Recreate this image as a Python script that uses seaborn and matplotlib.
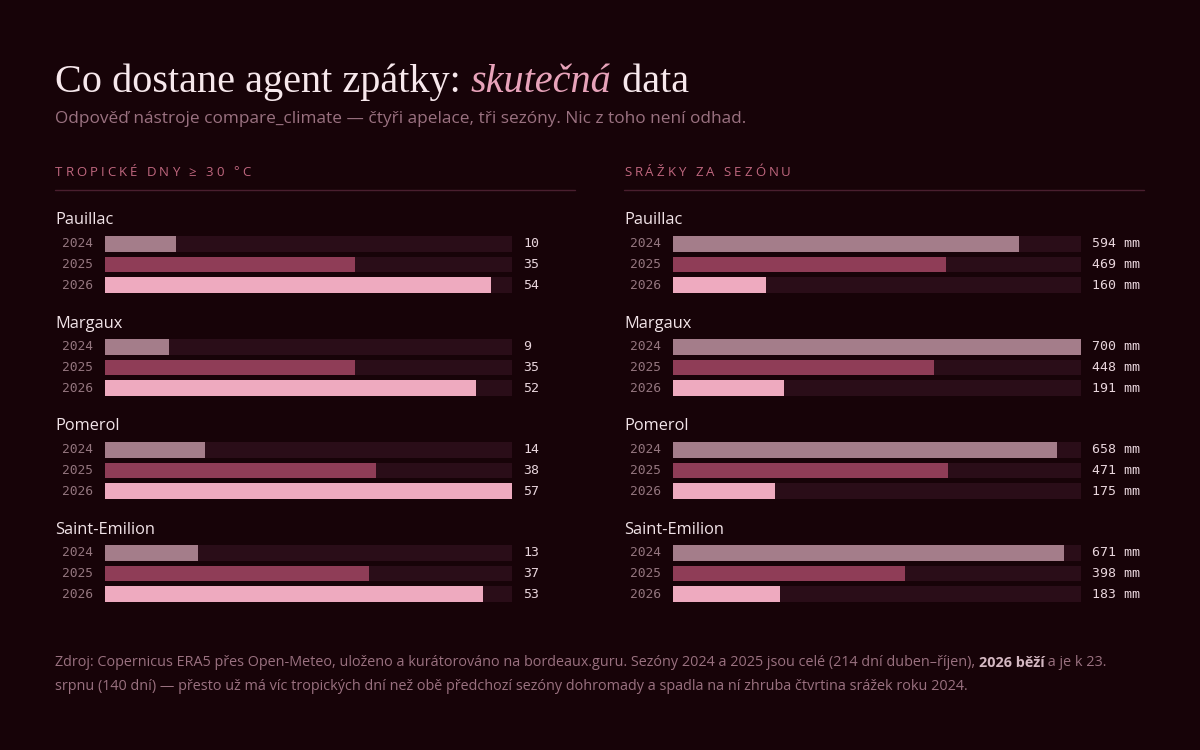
import pandas as pd
import matplotlib.pyplot as plt
import seaborn as sns

# Data
appellations = ['Pauillac', 'Margaux', 'Pomerol', 'Saint-Emilion']
years = ['2024', '2025', '2026']
tropical_days = {
    'Pauillac':      [10, 35, 54],
    'Margaux':       [9, 35, 52],
    'Pomerol':       [14, 38, 57],
    'Saint-Emilion': [13, 37, 53],
}
rain_mm = {
    'Pauillac':      [594, 469, 160],
    'Margaux':       [700, 448, 191],
    'Pomerol':       [658, 471, 175],
    'Saint-Emilion': [671, 398, 183],
}

# Colours
BG      = '#170308'
TRACK   = '#2a0d18'
YEAR_COLORS = {'2024': '#a47d8a', '2025': '#8f3d57', '2026': '#eeaabf'}
TITLE_C = '#f7e8ec'
ACCENT  = '#e8a3ba'
MUTED   = '#9a7180'
HEADER  = '#c0677f'
RULE    = '#4a1f2f'
LABEL_C = '#f2e4e8'
YEAR_C  = '#94767f'
VALUE_C = '#e8d5dc'

SANS  = ['Open Sans', 'DejaVu Sans']
SERIF = ['Liberation Serif', 'DejaVu Serif']
MONO  = ['DejaVu Sans Mono']

sns.set_theme(style='white')
plt.rcParams['font.family'] = SANS

W, H = 1200, 750
fig = plt.figure(figsize=(12, 7.5), dpi=100)
fig.patch.set_facecolor(BG)
renderer = fig.canvas.get_renderer()


def fx(px):
    return px / W


def fy(py):
    return 1 - py / H


def text_width(s, **kw):
    # measure with a sentinel so trailing spaces count
    t1 = fig.text(0, 0, s + '|', **kw)
    t2 = fig.text(0, 0, '|', **kw)
    w = t1.get_window_extent(renderer).width - t2.get_window_extent(renderer).width
    t1.remove()
    t2.remove()
    return w


def draw_runs(x, y, runs, va='baseline'):
    for s, kw in runs:
        fig.text(fx(x), fy(y), s, va=va, **kw)
        x += text_width(s, **kw)


def spaced_text(x, y, s, tracking, **kw):
    for ch in s:
        fig.text(fx(x), fy(y), ch, va='center', **kw)
        x += text_width(ch, **kw) + tracking


# Title + subtitle
title_kw = dict(fontsize=29, color=TITLE_C, family=SERIF)
draw_runs(55, 92, [
    ('Co dostane agent zpátky: ', title_kw),
    ('skutečná', dict(title_kw, color=ACCENT, style='italic')),
    (' data', title_kw),
])
fig.text(fx(55), fy(119), 'Odpověď nástroje compare_climate — čtyři apelace, tři sezóny. Nic z toho není odhad.',
         fontsize=12.4, color=MUTED, va='center', family=SANS)

panels = [
    dict(title='TROPICKÉ DNY ≥ 30 °C', data=tropical_days, unit='',
         x0=55, track_l=105, track_r=512, x1=575),
    dict(title='SRÁŽKY ZA SEZÓNU', data=rain_mm, unit=' mm',
         x0=624, track_l=673, track_r=1081, x1=1144),
]

GROUP_TOP = 233.5
GROUP_STEP = 103
AX_H = 62

for p in panels:
    spaced_text(p['x0'], 172, p['title'], 3.0, fontsize=9.5, color=HEADER, family=SANS)
    fig.add_artist(plt.Line2D([fx(p['x0']), fx(p['x1'])], [fy(190), fy(190)],
                              color=RULE, linewidth=1))
    xmax = max(max(v) for v in p['data'].values())

    for g, app in enumerate(appellations):
        top = GROUP_TOP + g * GROUP_STEP
        ax = fig.add_axes([fx(p['track_l']), fy(top + AX_H),
                           (p['track_r'] - p['track_l']) / W, AX_H / H])
        ax.set_facecolor(BG)
        df = pd.DataFrame({'year': years, 'value': p['data'][app]})

        ax.barh(years, [xmax] * len(years), height=0.77, color=TRACK, linewidth=0)
        sns.barplot(data=df, x='value', y='year', hue='year', palette=YEAR_COLORS,
                    order=years, orient='h', width=0.77, legend=False,
                    saturation=1, linewidth=0, ax=ax)
        ax.set_xlim(0, xmax)
        ax.set_ylim(2.5, -0.5)
        ax.axis('off')

        for i, (yr, val) in enumerate(zip(years, p['data'][app])):
            ax.annotate(yr, xy=(0, i), xycoords=('axes fraction', 'data'),
                        xytext=(-12, 0), textcoords='offset pixels',
                        ha='right', va='center', fontsize=9.3, color=YEAR_C, family=MONO)
            ax.annotate(f'{val}{p["unit"]}', xy=(1, i), xycoords=('axes fraction', 'data'),
                        xytext=(11, 0), textcoords='offset pixels',
                        ha='left', va='center', fontsize=9.5, color=VALUE_C, family=MONO)

        fig.text(fx(p['x0']), fy(top - 13), app, fontsize=11.8, color=LABEL_C,
                 va='center', family=SANS)

# Footer
foot_kw = dict(fontsize=10.4, color=MUTED, family=SANS)
bold_kw = dict(foot_kw, color='#d4b8c2', weight='bold')
draw_runs(55, 663, [
    ('Zdroj: Copernicus ERA5 přes Open-Meteo, uloženo a kurátorováno na bordeaux.guru. '
     'Sezóny 2024 a 2025 jsou celé (214 dní duben–říjen), ', foot_kw),
    ('2026 běží', bold_kw),
    (' a je k 23.', foot_kw),
], va='center')
fig.text(fx(55), fy(686), 'srpnu (140 dní) — přesto už má víc tropických dní než obě předchozí sezóny '
         'dohromady a spadla na ní zhruba čtvrtina srážek roku 2024.', va='center', **foot_kw)

plt.savefig('out.png', dpi=100, facecolor=BG)
plt.close()
